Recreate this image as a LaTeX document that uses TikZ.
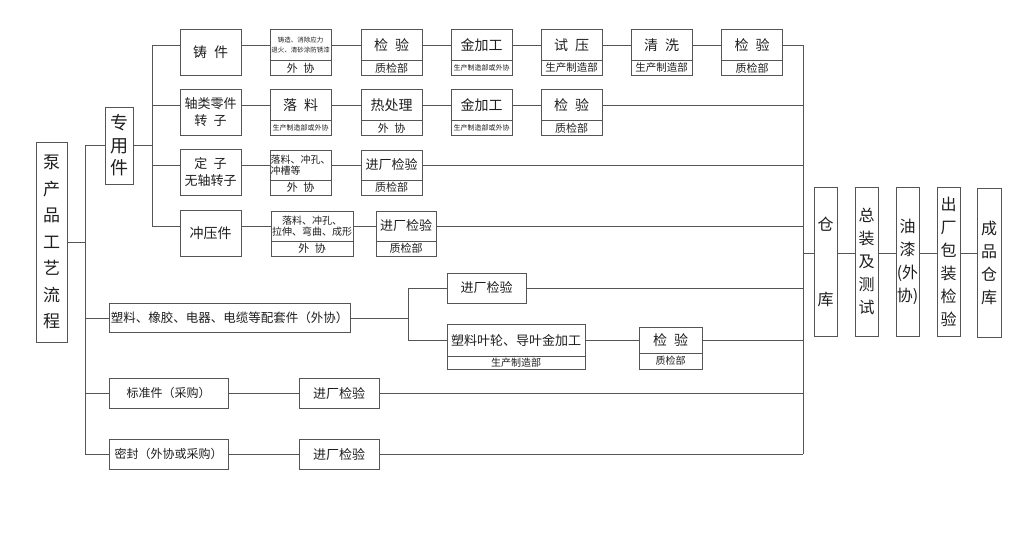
\documentclass[tikz,border=0pt]{standalone}
\usepackage{fontspec}
\setmainfont{Noto Sans CJK SC}
\usetikzlibrary{positioning}
\definecolor{flowLine}{HTML}{555555}
\definecolor{flowText}{HTML}{1E1E1E}
\newcommand\tsBig{\fontsize{14}{17}\selectfont}
\newcommand\tsMid{\fontsize{13}{17}\selectfont}
\newcommand\tsSub{\fontsize{11}{12}\selectfont}
\newcommand\tsDept{\fontsize{10.5}{12}\selectfont}
\newcommand\tsSmall{\fontsize{10}{11}\selectfont}
\newcommand\tsMini{\fontsize{7}{8}\selectfont}
\newcommand\tsTiny{\fontsize{6.5}{10}\selectfont}
\newcommand\tsVert{\fontsize{16}{23}\selectfont}
\tikzset{
  box/.style={rectangle, draw=flowLine, line width=0.9pt, inner sep=0pt,
    outer sep=0pt, align=center, text=flowText},
  upbox/.style={box, minimum width=61pt, minimum height=31pt},
  lowbox/.style={box, minimum width=61pt, minimum height=15pt, below=0pt of #1},
  vbox/.style={box, minimum width=23pt, minimum height=149pt, font=\tsVert},
  link/.style={draw=flowLine, line width=0.9pt},
}
\begin{document}
\begin{tikzpicture}[x=1pt, y=-1pt]
  \useasboundingbox (0,0) rectangle (1019,555);

  % left column
  \node[box, minimum width=31pt, minimum height=200pt,
    font=\fontsize{17}{26.5}\selectfont] (beng) at (51.5,242)
    {泵\\产\\品\\工\\艺\\流\\程};
  \node[box, minimum width=28pt, minimum height=77pt,
    font=\fontsize{18}{22.5}\selectfont] (zyj) at (119,145.5) {专\\用\\件};

  % row 1
  \node[box, minimum width=61pt, minimum height=46pt, font=\tsBig] (zj) at (210.5,52) {铸\enspace 件};
  \node[upbox, font=\tsTiny] (a1) at (300.5,45) {铸造、消除应力\\退火、清砂涂防锈漆};
  \node[lowbox=a1, font=\tsSub] (a1s) {外\enspace 协};
  \node[upbox, font=\tsBig] (a2) at (391.5,45) {检\enspace 验};
  \node[lowbox=a2, font=\tsSub] (a2s) {质检部};
  \node[upbox, font=\tsBig] (a3) at (481.5,45) {金加工};
  \node[lowbox=a3, font=\tsMini] (a3s) {生产制造部或外协};
  \node[upbox, font=\tsBig] (a4) at (571.5,45) {试\enspace 压};
  \node[lowbox=a4, font=\tsDept] (a4s) {生产制造部};
  \node[upbox, font=\tsBig] (a5) at (661.5,45) {清\enspace 洗};
  \node[lowbox=a5, font=\tsDept] (a5s) {生产制造部};
  \node[upbox, font=\tsBig] (a6) at (752,45) {检\enspace 验};
  \node[lowbox=a6, font=\tsSub] (a6s) {质检部};

  % row 2
  \node[box, minimum width=61pt, minimum height=46pt, font=\tsMid] (zl) at (210.5,112.5) {轴类零件\\转\enspace 子};
  \node[upbox, font=\tsBig] (b1) at (300.5,105) {落\enspace 料};
  \node[lowbox=b1, font=\tsMini] (b1s) {生产制造部或外协};
  \node[upbox, font=\tsBig] (b2) at (391.5,105) {热处理};
  \node[lowbox=b2, font=\tsSub] (b2s) {外\enspace 协};
  \node[upbox, font=\tsBig] (b3) at (481.5,105) {金加工};
  \node[lowbox=b3, font=\tsMini] (b3s) {生产制造部或外协};
  \node[upbox, font=\tsBig] (b4) at (571.5,105) {检\enspace 验};
  \node[lowbox=b4, font=\tsSub] (b4s) {质检部};

  % row 3
  \node[box, minimum width=61pt, minimum height=46pt, font=\tsMid] (dz) at (210.5,172.5) {定\enspace 子\\无轴转子};
  \node[upbox, minimum height=30pt, font=\tsSmall, align=left] (c1) at (300.5,165) {落料、冲孔、\\冲槽等};
  \node[lowbox=c1, font=\tsSub] (c1s) {外\enspace 协};
  \node[upbox, minimum height=30pt, font=\tsMid] (c2) at (391.5,165) {进厂检验};
  \node[lowbox=c2, font=\tsSub] (c2s) {质检部};

  % row 4
  \node[box, minimum width=61pt, minimum height=46pt, font=\tsBig] (cy) at (210.5,233.5) {冲压件};
  \node[upbox, minimum width=82pt, minimum height=30pt, font=\tsSmall] (d1) at (312,226) {落料、冲孔、\\拉伸、弯曲、成形};
  \node[lowbox=d1, minimum width=82pt, font=\tsSub] (d1s) {外\enspace 协};
  \node[upbox, minimum width=60pt, minimum height=30pt, font=\tsMid] (d2) at (406,226) {进厂检验};
  \node[lowbox=d2, minimum width=60pt, font=\tsSub] (d2s) {质检部};

  % row 5
  \node[box, minimum width=241pt, minimum height=29pt, font=\fontsize{12.5}{15}\selectfont] (sl) at (229.5,318) {塑料、橡胶、电器、电缆等配套件（外协）};
  \node[box, minimum width=79pt, minimum height=30pt, font=\tsMid] (e1) at (486.5,288) {进厂检验};
  \node[upbox, minimum width=138pt, minimum height=32pt, font=\tsMid] (e2) at (516,340) {塑料叶轮、导叶金加工};
  \node[lowbox=e2, minimum width=138pt, minimum height=13pt, font=\tsSmall] (e2s) {生产制造部};
  \node[upbox, minimum width=63pt, minimum height=26pt, font=\tsBig] (e3) at (670.5,340) {检\enspace 验};
  \node[lowbox=e3, minimum width=63pt, minimum height=16pt, font=\tsSmall] (e3s) {质检部};

  % rows 6 and 7
  \node[box, minimum width=119pt, minimum height=30pt, font=\fontsize{12}{14}\selectfont] (bz) at (168.5,393) {标准件（采购）};
  \node[box, minimum width=80pt, minimum height=30pt, font=\tsMid] (f1) at (339,393) {进厂检验};
  \node[box, minimum width=119pt, minimum height=30pt, font=\fontsize{12}{14}\selectfont] (mf) at (168.5,454) {密封（外协或采购）};
  \node[box, minimum width=80pt, minimum height=30pt, font=\tsMid] (g1) at (339,454) {进厂检验};

  % right column
  \node[vbox] (ck) at (825.5,261.5) {仓\\[52pt]库};
  \node[vbox] (zz) at (866.5,261.5) {总\\装\\及\\测\\试};
  \node[vbox] (yq) at (907.5,261.5) {油\\漆\\(外\\协)};
  \node[vbox] (cc) at (948.5,262) {出\\厂\\包\\装\\检\\验};
  \node[vbox, minimum width=24pt] (cp) at (989,263) {成\\品\\仓\\库};

  % buses
  \coordinate (busAtop) at (85,145.5);
  \coordinate (busAbot) at (85,454);
  \coordinate (busBtop) at (152,45);
  \coordinate (busBbot) at (152,226);
  \coordinate (busCtop) at (408,288);
  \coordinate (busCbot) at (408,340);
  \coordinate (mainTop) at (803,45);
  \coordinate (mainBot) at (803,454);
  \coordinate (hub) at (803,253);

  \draw[link] (busAtop) -- (busAbot);
  \draw[link] (beng.east) -- (beng.east -| busAtop);
  \draw[link] (busAtop) -- (zyj.west);
  \draw[link] (sl.west -| busAtop) -- (sl.west);
  \draw[link] (bz.west -| busAtop) -- (bz.west);
  \draw[link] (mf.west -| busAtop) -- (mf.west);

  \draw[link] (zyj.east) -- (zyj.east -| busBtop);
  \draw[link] (busBtop) -- (busBbot);
  \draw[link] (busBtop) -- (zj.west |- busBtop);
  \draw[link] (zl.west |- b1.west) -| (busBtop);
  \draw[link] (dz.west |- c1.west) -- (dz.west |- c1.west -| busBtop);
  \draw[link] (busBbot) -- (cy.west |- busBbot);

  \draw[link] (zj.east |- a1.west) -- (a1.west) (a1.east) -- (a2.west)
    (a2.east) -- (a3.west) (a3.east) -- (a4.west) (a4.east) -- (a5.west)
    (a5.east) -- (a6.west) (a6.east) -- (mainTop);
  \draw[link] (zl.east |- b1.west) -- (b1.west) (b1.east) -- (b2.west)
    (b2.east) -- (b3.west) (b3.east) -- (b4.west) (b4.east) -- (b4.east -| mainTop);
  \draw[link] (dz.east |- c1.west) -- (c1.west) (c1.east) -- (c2.west)
    (c2.east) -- (c2.east -| mainTop);
  \draw[link] (cy.east |- d1.west) -- (d1.west) (d1.east) -- (d2.west)
    (d2.east) -- (d2.east -| mainTop);

  \draw[link] (sl.east) -- (sl.east -| busCtop);
  \draw[link] (busCtop) -- (busCbot);
  \draw[link] (busCtop) -- (e1.west) (e1.east) -- (e1.east -| mainTop);
  \draw[link] (busCbot) -- (e2.west) (e2.east) -- (e3.west) (e3.east) -- (e3.east -| mainTop);
  \draw[link] (bz.east) -- (f1.west) (f1.east) -- (f1.east -| mainTop);
  \draw[link] (mf.east) -- (g1.west) (g1.east) -- (mainBot);

  \draw[link] (mainTop) -- (mainBot);
  \draw[link] (hub) -- (ck.west |- hub) (ck.east |- hub) -- (zz.west |- hub)
    (zz.east |- hub) -- (yq.west |- hub) (yq.east |- hub) -- (cc.west |- hub)
    (cc.east |- hub) -- (cp.west |- hub);
\end{tikzpicture}
\end{document}
